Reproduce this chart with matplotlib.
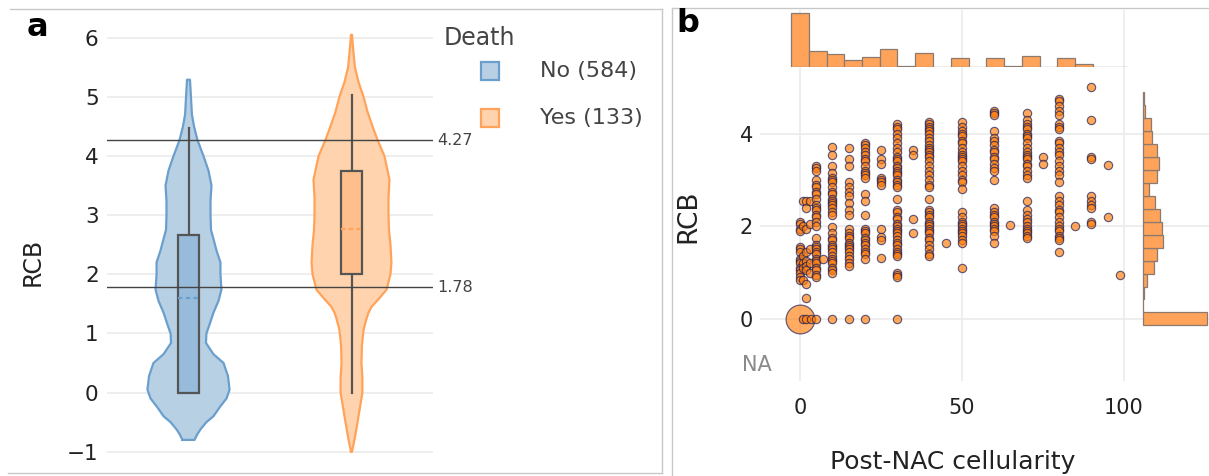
import numpy as np
import matplotlib.pyplot as plt
from matplotlib.patches import Rectangle
from matplotlib.lines import Line2D

# ---- panel a: violin outlines (RCB, half width in category units)
no_rcb = [-0.80, -0.70, -0.62, -0.50, -0.40, -0.23, -0.10, 0.05, 0.28, 0.50, 0.65, 0.84,
          1.00, 1.15, 1.35, 1.55, 1.74, 2.00, 2.20, 2.40, 2.60, 2.75, 3.00, 3.25, 3.50,
          3.75, 4.00, 4.27, 4.50, 4.70, 5.00, 5.29]
no_half = [0.037, 0.055, 0.074, 0.110, 0.153, 0.196, 0.233, 0.252, 0.242, 0.215, 0.153, 0.107,
           0.110, 0.129, 0.153, 0.184, 0.202, 0.196, 0.196, 0.172, 0.153, 0.138, 0.135, 0.135, 0.141,
           0.123, 0.092, 0.055, 0.034, 0.021, 0.015, 0.009]
yes_rcb = [-1.00, -0.80, -0.50, -0.20, 0.00, 0.25, 0.50, 0.80, 1.06, 1.25, 1.35, 1.45, 1.60,
           1.74, 2.00, 2.20, 2.50, 2.75, 3.00, 3.30, 3.60, 4.00, 4.27, 4.50, 4.75, 5.00,
           5.25, 5.50, 5.75, 6.05]
yes_half = [0.003, 0.018, 0.037, 0.055, 0.067, 0.067, 0.061, 0.064, 0.074, 0.092, 0.104, 0.123, 0.172,
            0.215, 0.239, 0.245, 0.239, 0.230, 0.227, 0.227, 0.233, 0.202, 0.160, 0.129, 0.098, 0.074,
            0.043, 0.021, 0.012, 0.003]
# box: q1, mean, q3, upper whisker, lower whisker
no_box = [0.0, 1.6, 2.67, 4.47, 0.0]
yes_box = [2.0, 2.77, 3.74, 5.03, 0.0]
thresholds = [4.27, 1.78]
group_labels = ['No (584)', 'Yes (133)']

# ---- panel b: RCB values at each post-NAC cellularity
rcb_at_cell = {
    0: [2.1, 2.05, 1.95, 1.9, 1.55, 1.5, 1.45, 1.3, 1.25, 1.2, 1.1, 1.05, 1.0, 0.9, 0.85],
    1: [2.55, 2.0, 1.35, 1.2, 1.1, 0.85],
    2: [2.55, 2.4, 1.95, 1.45, 1.25, 1.15, 1.05, 0.75, 0.45],
    3: [2.55, 2.05, 1.5, 1.2, 1.0],
    5: [3.3, 3.25, 3.2, 3.0, 2.9, 2.85, 2.75, 2.7, 2.6, 2.45, 2.4, 2.35, 2.25, 2.2, 2.1, 2.0,
        1.75, 1.6, 1.55, 1.5, 1.45, 1.4, 1.3, 1.25, 1.2, 1.1, 1.05, 0.95, 0.9],
    7: [1.3],
    10: [3.72, 3.55, 3.3, 3.15, 3.05, 3.0, 2.95, 2.85, 2.75, 2.7, 2.6, 2.55, 2.5, 2.45, 2.4, 2.3,
         2.25, 1.98, 1.85, 1.75, 1.7, 1.6, 1.55, 1.5, 1.45, 1.35, 1.3, 1.25, 1.2, 1.1, 1.05, 1.0],
    15: [3.7, 3.45, 3.3, 2.95, 2.85, 2.75, 2.65, 2.5, 2.35, 2.25, 1.95, 1.85, 1.8, 1.75, 1.65,
         1.6, 1.55, 1.5, 1.45, 1.35, 1.3, 1.2, 1.15],
    20: [3.8, 3.75, 3.7, 3.6, 3.55, 3.45, 3.4, 3.3, 3.2, 3.15, 3.1, 3.05, 2.7, 2.55, 2.25, 1.95,
         1.9, 1.85, 1.75, 1.7, 1.65, 1.6, 1.5, 1.45, 1.4, 1.3],
    25: [3.65, 3.45, 3.35, 3.05, 3.0, 2.95, 2.9, 1.95, 1.78, 1.7, 1.32],
    30: [4.2, 4.15, 4.1, 4.0, 3.9, 3.8, 3.7, 3.6, 3.5, 3.45, 3.4, 3.3, 3.25, 3.2, 3.15, 3.1, 3.0,
         2.95, 2.9, 2.85, 2.6, 2.35, 2.3, 2.2, 2.15, 2.05, 2.0, 1.95, 1.9, 1.85, 1.8, 1.7, 1.65,
         1.6, 1.5, 1.45, 1.4, 1.35, 1.0, 0.95, 0.9],
    35: [3.65, 3.55, 2.15, 1.85],
    40: [4.25, 4.2, 4.15, 4.1, 4.05, 4.0, 3.9, 3.85, 3.75, 3.7, 3.65, 3.6, 3.55, 3.5, 3.4, 3.3,
         3.2, 3.1, 3.0, 2.9, 2.85, 2.6, 2.35, 2.3, 2.25, 2.2, 2.1, 2.05, 2.0, 1.95, 1.9, 1.85,
         1.75, 1.7, 1.6, 1.5, 1.4, 1.35],
    45: [1.63],
    50: [4.25, 4.15, 4.05, 4.0, 3.95, 3.85, 3.8, 3.7, 3.6, 3.55, 3.5, 3.45, 3.4, 3.3, 3.2, 3.1,
         3.0, 2.95, 2.8, 2.3, 2.2, 2.1, 2.05, 2.0, 1.95, 1.9, 1.85, 1.8, 1.7, 1.65, 1.1],
    60: [4.5, 4.45, 4.4, 4.05, 3.9, 3.85, 3.75, 3.65, 3.6, 3.5, 3.45, 3.35, 3.25, 3.2, 3.0, 2.4,
         2.3, 2.25, 2.2, 2.1, 2.05, 2.0, 1.95, 1.9, 1.8, 1.63],
    65: [2.02],
    70: [4.45, 4.3, 4.2, 4.15, 4.1, 4.0, 3.95, 3.9, 3.8, 3.7, 3.6, 3.55, 3.5, 3.45, 3.35, 3.3,
         3.2, 3.1, 3.05, 2.55, 2.35, 2.25, 2.15, 2.1, 2.0, 1.95, 1.9, 1.85, 1.8, 1.75],
    75: [3.5, 3.35],
    80: [4.75, 4.7, 4.6, 4.5, 4.4, 4.2, 4.15, 4.1, 3.85, 3.8, 3.7, 3.6, 3.55, 3.4, 3.3, 3.2, 3.1,
         2.95, 2.65, 2.55, 2.45, 2.35, 2.3, 2.2, 2.1, 2.0, 1.95, 1.9, 1.8, 1.75, 1.7, 1.45],
    85: [2.0],
    90: [5.0, 4.3, 3.5, 3.45, 2.65, 2.55, 2.45, 2.4, 2.1, 2.05],
    95: [3.33, 2.21],
    99: [0.94],
}
zero_rcb_cell = [1, 2, 3.5, 5, 10, 15, 20, 30]   # RCB = 0 with some residual cellularity

cell_edges = [-2.7, 2.7, 8.2, 13.7, 19.2, 24.7, 30.1, 35.6, 41.1, 46.6, 52.1, 57.5, 63.0,
              68.5, 74.0, 79.5, 85.0, 90.4, 95.9, 101.4]
cell_counts = [180, 54, 44, 23, 34, 61, 2, 46, 1, 31, 0, 29, 2, 36, 1, 31, 10, 1, 1]
rcb_edges = [-0.14, 0.14, 0.42, 0.70, 0.98, 1.26, 1.54, 1.82, 2.10, 2.38, 2.66, 2.94, 3.22,
             3.50, 3.78, 4.06, 4.34, 4.62, 4.90]
rcb_counts = [199, 0, 2, 13, 33, 43, 62, 60, 52, 36, 18, 43, 51, 42, 29, 24, 7, 2]

W, H = 1209, 476
fig = plt.figure(figsize=(W / 100, H / 100), dpi=100)


def px_axes(x0, y0, x1, y1):
    return fig.add_axes([x0 / W, 1 - y1 / H, (x1 - x0) / W, (y1 - y0) / H])


def px_line(xs, ys):
    fig.add_artist(Line2D([x / W for x in xs], [1 - y / H for y in ys],
                          color='#c8c8c8', lw=1.0, transform=fig.transFigure))


def clean(ax):
    for s in ax.spines.values():
        s.set_visible(False)
    ax.tick_params(length=0)
    ax.set_axisbelow(True)


grid = '#ebebeb'
txt = '#222222'

# ================= panel a =================
ax = px_axes(107, 20, 433, 460)
clean(ax)
ax.set_xlim(-0.5, 1.5)
ax.set_ylim(-1.14, 6.3)
ax.set_yticks(range(-1, 7))
ax.tick_params(axis='y', labelsize=15.5, labelcolor=txt, pad=6)
ax.set_xticks([])
ax.grid(axis='y', color=grid, lw=1.2)

styles = [
    dict(face='#b8d0e4', edge='#6a9fcd', box='#96bbdb'),
    dict(face='#ffd3ad', edge='#ffa35a', box='#ffbf8d'),
]
for i, (yy, hw, bx) in enumerate([(no_rcb, no_half, no_box), (yes_rcb, yes_half, yes_box)]):
    st = styles[i]
    yy = np.array(yy)
    hw = np.array(hw)
    ax.fill_betweenx(yy, i - hw, i + hw, color=st['face'], lw=0, zorder=2)
    ax.plot(np.r_[i - hw, (i + hw)[::-1], (i - hw)[:1]], np.r_[yy, yy[::-1], yy[:1]],
            color=st['edge'], lw=1.6, zorder=3, solid_joinstyle='round')
    q1, mean, q3, hi, lo = bx
    bw = 0.064
    ax.plot([i, i], [q3, hi], color='#555555', lw=1.6, zorder=4)
    ax.plot([i, i], [lo, q1], color='#555555', lw=1.6, zorder=4)
    ax.add_patch(Rectangle((i - bw, q1), 2 * bw, q3 - q1, facecolor=st['box'],
                           edgecolor='#555555', lw=1.6, zorder=5))
    ax.plot([i - bw, i + bw], [mean, mean], color=st['edge'], lw=1.6, ls=(0, (2, 1.5)), zorder=6)

for t in thresholds:
    ax.axhline(t, color='#444444', lw=1.0, zorder=7)
    ax.text(1.525, t, f'{t:.2f}', va='center', ha='left', fontsize=11.5, color='#444444',
            clip_on=False)

fig.text(33 / W, 1 - 262 / H, 'RCB', rotation=90, ha='center', va='center', fontsize=17,
         color=txt)
fig.text(37 / W, 1 - 27 / H, 'a', ha='center', va='center', fontsize=23, fontweight='bold')

# legend
fig.text(444 / W, 1 - 38 / H, 'Death', ha='left', va='center', fontsize=17, color='#444444')
for k, (lab, st) in enumerate(zip(group_labels, styles)):
    yc = 71 + k * 47
    fig.add_artist(Rectangle((481 / W, 1 - (yc + 9) / H), 18 / W, 18 / H,
                             facecolor=st['face'], edgecolor=st['edge'], lw=1.6,
                             transform=fig.transFigure))
    fig.text(540 / W, 1 - yc / H, lab, ha='left', va='center', fontsize=16, color='#444444')

# panel a frame
px_line([10, 662], [9, 9])
px_line([662, 662], [9, 473])
px_line([8, 662], [473, 473])

# ================= panel b =================
# main scatter axes
x_lim = (-12.36, 104.1)
y_lim = (-1.34, 5.44)
axm = px_axes(760, 67, 1137, 381)
clean(axm)
axm.set_xlim(*x_lim)
axm.set_ylim(*y_lim)
axm.set_xticks([0, 50, 100])
axm.set_yticks([0, 2, 4])
axm.tick_params(axis='x', labelsize=15, labelcolor=txt, pad=12)
axm.tick_params(axis='y', labelsize=15, labelcolor=txt, pad=5)
axm.grid(color=grid, lw=1.2)

xs, ys = [], []
for c, vals in rcb_at_cell.items():
    xs += [c] * len(vals)
    ys += vals
xs += zero_rcb_cell
ys += [0] * len(zero_rcb_cell)
axm.scatter([0], [0], s=430, c='#ff7f0e', alpha=0.65, edgecolors='#1a1a55', linewidths=0.9,
            zorder=3)
axm.scatter(xs, ys, s=36, c='#ff7f0e', alpha=0.68, edgecolors='#1a1a55', linewidths=0.85,
            zorder=4)

fig.text(757 / W, 1 - 365 / H, 'NA', ha='center', va='center', fontsize=15, color='#8a8a8a')
fig.text(688 / W, 1 - 216 / H, 'RCB', rotation=90, ha='center', va='center', fontsize=19,
         color=txt)
fig.text(953 / W, 1 - 462 / H, 'Post-NAC cellularity', ha='center', va='center', fontsize=18,
         color=txt)
fig.text(688 / W, 1 - 24 / H, 'b', ha='center', va='center', fontsize=23, fontweight='bold')

hist_face = '#ffa35a'
hist_edge = '#8c7a70'

# top histogram (cellularity)
axt = px_axes(760, 10, 1137, 67)
clean(axt)
axt.set_xlim(*x_lim)
axt.set_ylim(0, max(cell_counts) * 57 / 54)
axt.set_yticks([])
axt.set_xticks([0, 50, 100])
axt.set_xticklabels([])
axt.grid(axis='x', color=grid, lw=1.2)
axt.bar(cell_edges[:-1], cell_counts, width=np.diff(cell_edges), align='edge',
        color=hist_face, edgecolor=hist_edge, lw=0.9, zorder=3)

# right histogram (RCB)
axr = px_axes(1137, 67, 1209, 381)
clean(axr)
top = max(rcb_counts)
axr.set_xlim(-6 * top / 64, top + 2 * top / 64)
axr.set_ylim(*y_lim)
axr.set_xticks([])
axr.set_yticks([0, 2, 4])
axr.set_yticklabels([])
axr.grid(axis='y', color=grid, lw=1.2)
axr.barh(rcb_edges[:-1], rcb_counts, height=np.diff(rcb_edges), align='edge',
         color=hist_face, edgecolor=hist_edge, lw=0.9, zorder=3)

# panel b frame
px_line([672, 672], [8, 476])
px_line([672, 1209], [8, 8])

fig.savefig('out.png', dpi=100)
